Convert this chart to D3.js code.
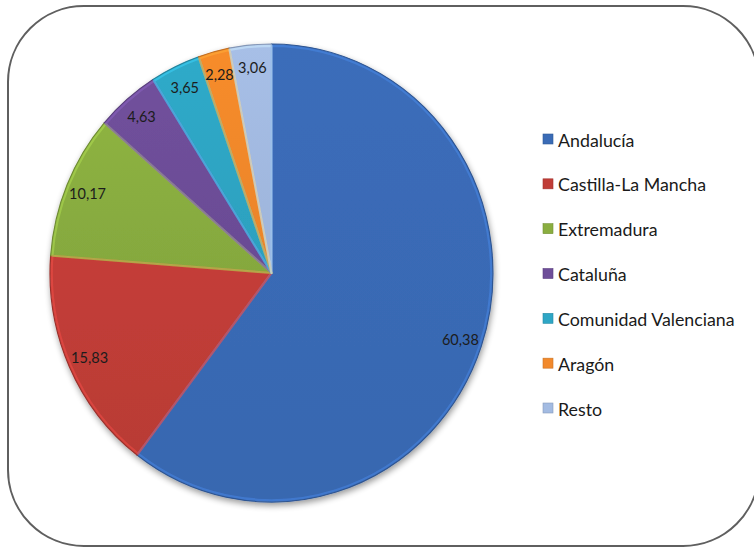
<!DOCTYPE html>
<html>
<head>
<meta charset="utf-8">
<script src="https://cdn.jsdelivr.net/npm/d3@7"></script>
<style>
  html, body { margin: 0; padding: 0; background: #ffffff; }
  svg { display: block; }
  text { font-family: Lato, "Open Sans", "Noto Sans", sans-serif; }
</style>
</head>
<body>
<svg id="chart" width="754" height="547"></svg>
<script>
// Share by region (%)
const regions = ["Andalucía", "Castilla-La Mancha", "Extremadura", "Cataluña", "Comunidad Valenciana", "Aragón", "Resto"];
const shares = [60.38, 15.83, 10.17, 4.63, 3.65, 2.28, 3.06];
const labels = ["60,38", "15,83", "10,17", "4,63", "3,65", "2,28", "3,06"];
const colors = ["#3a6bb6", "#c03d37", "#8aae40", "#6e4e99", "#2ea6c5", "#f2892b", "#a3bbe2"];

const svg = d3.select("#chart");

// Frame with large rounded corners (right side runs past the page edge)
svg.append("rect")
  .attr("x", 8).attr("y", 6)
  .attr("width", 751).attr("height", 540)
  .attr("rx", 76).attr("ry", 76)
  .attr("fill", "#ffffff")
  .attr("stroke", "#5f5f5f")
  .attr("stroke-width", 2);

const defs = svg.append("defs");
const shadow = defs.append("filter").attr("id", "pieShadow")
  .attr("x", "-10%").attr("y", "-10%").attr("width", "120%").attr("height", "125%");
shadow.append("feGaussianBlur").attr("in", "SourceAlpha").attr("stdDeviation", 3);
shadow.append("feOffset").attr("dx", 1).attr("dy", 3).attr("result", "off");
shadow.append("feComponentTransfer").append("feFuncA").attr("type", "linear").attr("slope", 0.4);
const merge = shadow.append("feMerge");
merge.append("feMergeNode");
merge.append("feMergeNode").attr("in", "SourceGraphic");

// Soft sheen over each slice
colors.forEach((c, i) => {
  const g = defs.append("linearGradient").attr("id", "grad" + i)
    .attr("x1", "0").attr("y1", "0").attr("x2", "0").attr("y2", "1");
  g.append("stop").attr("offset", "0%").attr("stop-color", d3.color(c).brighter(0.06));
  g.append("stop").attr("offset", "100%").attr("stop-color", d3.color(c).darker(0.1));
});

// Pie geometry (slightly taller than wide)
const cx = 271.5, cy = 273, rx = 221.5, ry = 229;

const pie = d3.pie().sort(null).value(d => d.v);
const arcs = pie(shares.map((v, i) => ({ v, i })));
const arc = d3.arc().innerRadius(0).outerRadius(1);

const pieG = svg.append("g").attr("filter", "url(#pieShadow)");
const slices = pieG.append("g")
  .attr("transform", `translate(${cx},${cy}) scale(${rx},${ry})`);

slices.selectAll("path.slice")
  .data(arcs)
  .join("path")
  .attr("class", "slice")
  .attr("d", arc)
  .attr("fill", d => `url(#grad${d.data.i})`)
  .attr("stroke", d => d3.color(colors[d.data.i]).darker(0.6))
  .attr("stroke-width", 1.2)
  .attr("vector-effect", "non-scaling-stroke");

// Bevel highlight along slice edges
slices.selectAll("path.bevel")
  .data(arcs)
  .join("path")
  .attr("class", "bevel")
  .attr("d", arc)
  .attr("fill", "none")
  .attr("stroke", d => d3.color(colors[d.data.i]).brighter(0.7))
  .attr("stroke-opacity", 0.5)
  .attr("stroke-width", 2.2)
  .attr("stroke-linejoin", "round")
  .attr("transform", "scale(0.992)")
  .attr("vector-effect", "non-scaling-stroke");

// Value labels near the outer edge of each slice
const labelArc = d3.arc().innerRadius(0.9).outerRadius(0.9);
svg.append("g").selectAll("text")
  .data(arcs)
  .join("text")
  .attr("x", d => cx + labelArc.centroid(d)[0] * rx)
  .attr("y", d => cy + labelArc.centroid(d)[1] * ry)
  .attr("text-anchor", "middle")
  .attr("dominant-baseline", "central")
  .attr("font-size", 14.5)
  .attr("fill", "#1c1c1c")
  .text(d => labels[d.data.i]);

// Legend
const legendY = d3.scalePoint().domain(regions).range([139, 408]);
const item = svg.append("g").selectAll("g")
  .data(regions)
  .join("g")
  .attr("transform", d => `translate(543,${legendY(d)})`);
item.append("rect")
  .attr("x", 0).attr("y", -5)
  .attr("width", 10).attr("height", 10)
  .attr("fill", (d, i) => colors[i])
  .attr("stroke", (d, i) => d3.color(colors[i]).darker(0.5))
  .attr("stroke-width", 0.6);
item.append("text")
  .attr("x", 15)
  .attr("y", 0.5)
  .attr("dominant-baseline", "central")
  .attr("font-size", 17.8)
  .attr("fill", "#1a1a1a")
  .text(d => d);
</script>
</body>
</html>
